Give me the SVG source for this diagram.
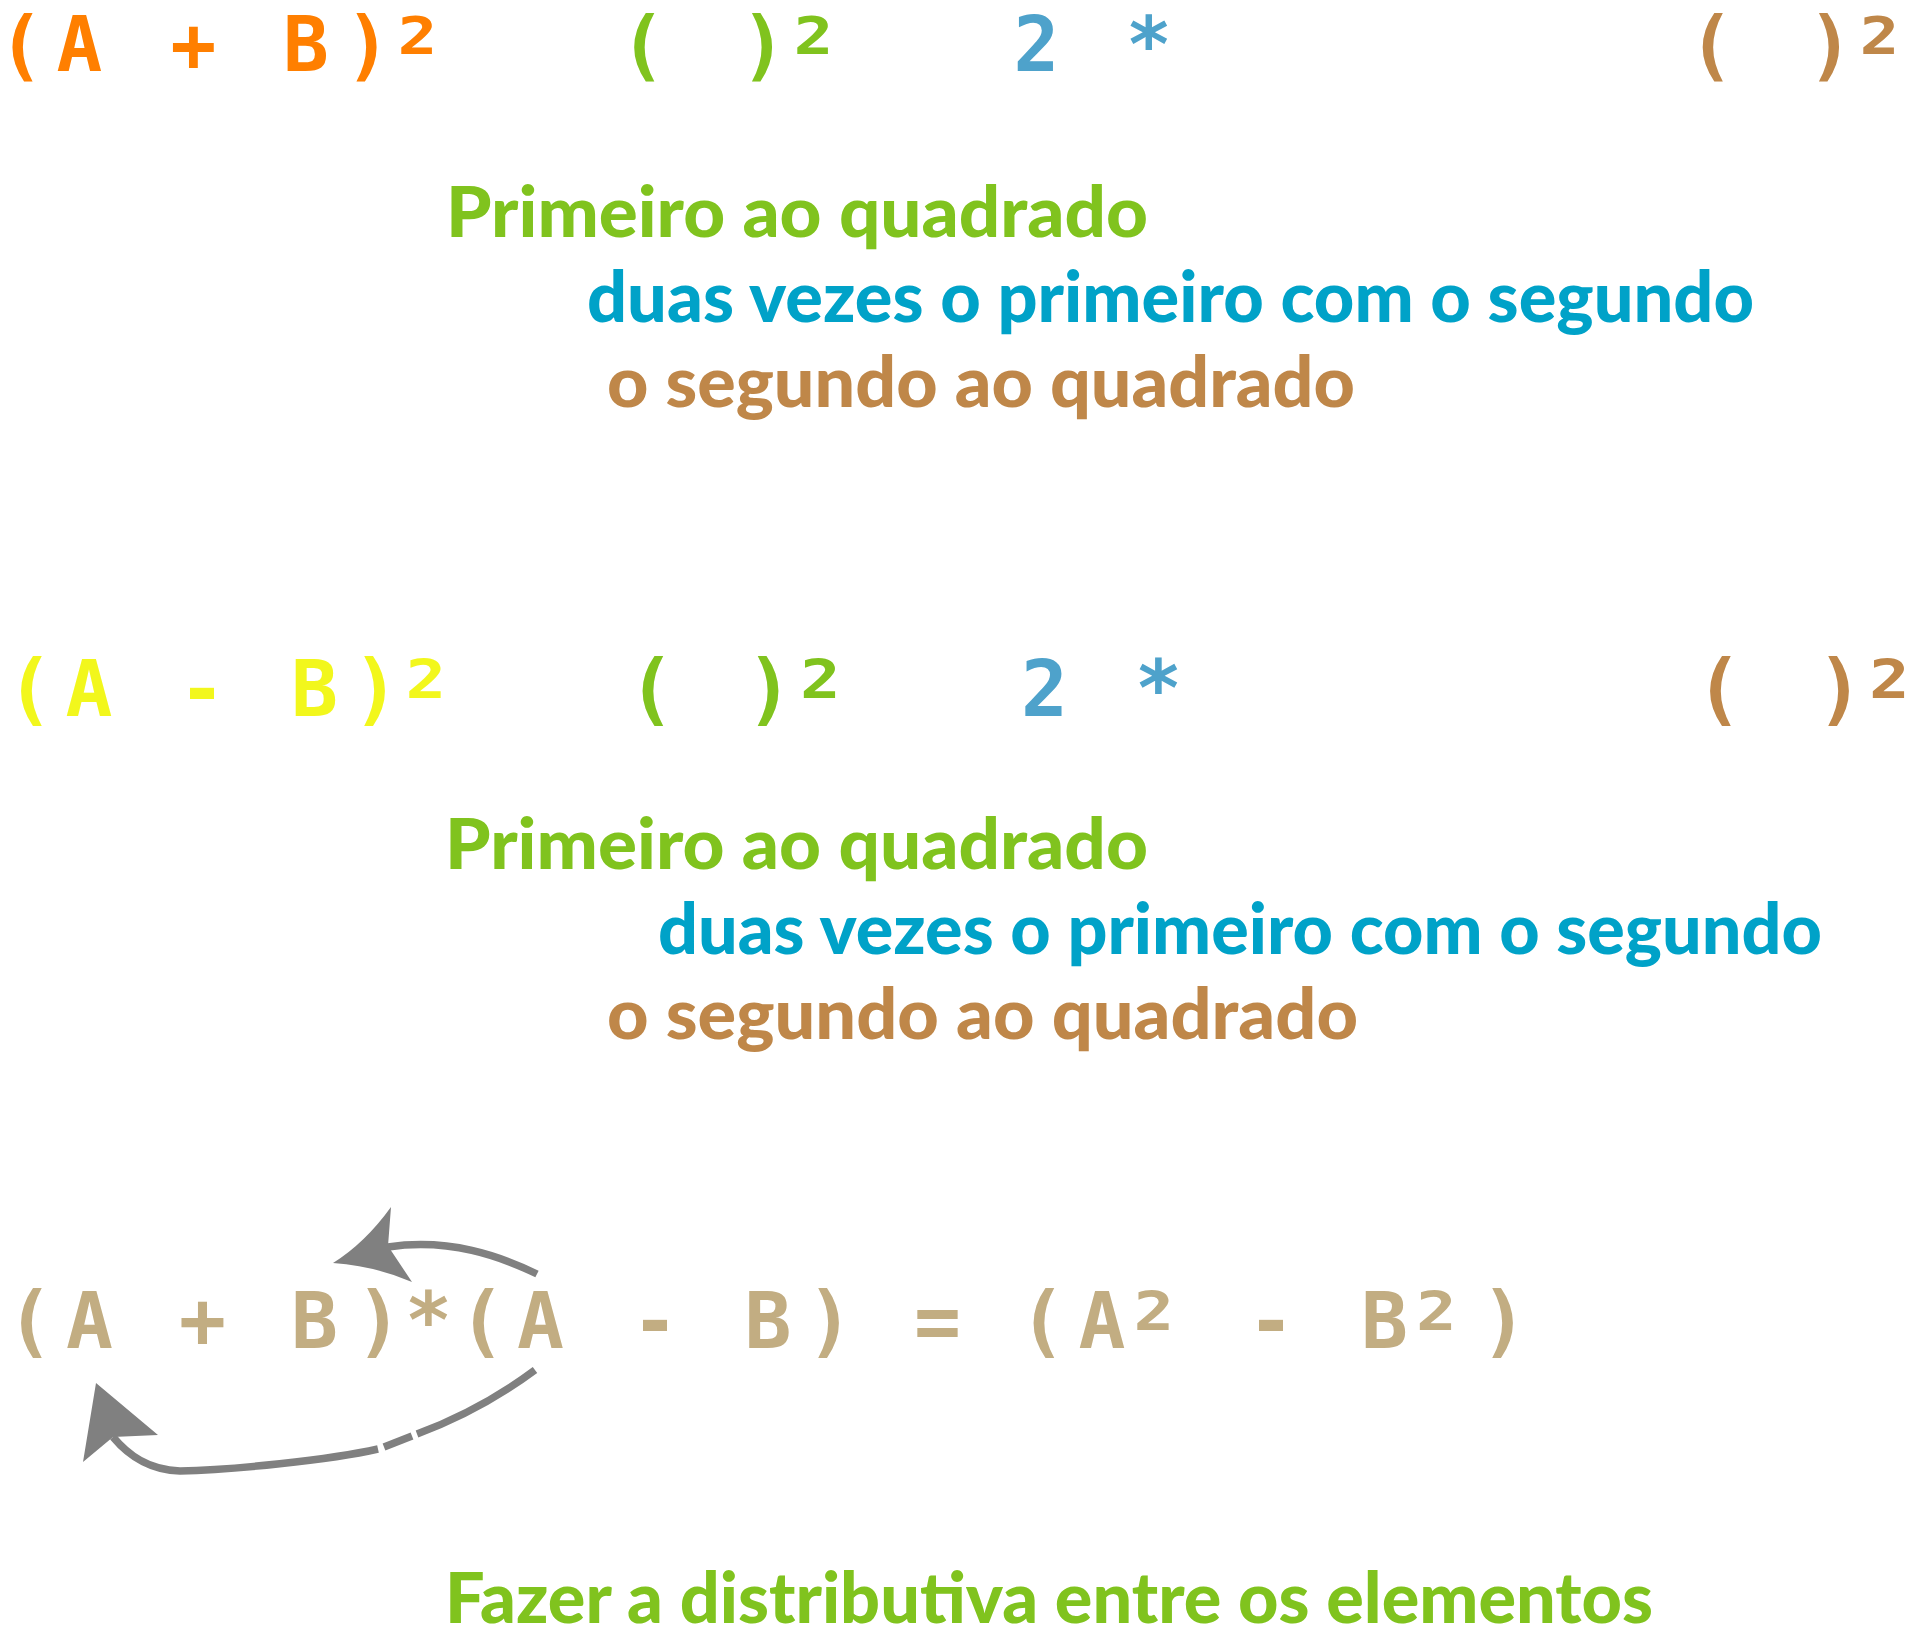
<svg xmlns="http://www.w3.org/2000/svg" width="1922" height="1638" viewBox="0 0 1922 1638">
<style>
.pix{font-family:"DejaVu Sans Mono","Liberation Mono",monospace;font-weight:bold;font-size:78px;text-anchor:middle}
.top{font-size:76px}
.sup{font-size:96px}
.top .sup{font-size:94px}
.lbl{font-family:Lato,"Open Sans","Noto Sans",sans-serif;font-weight:900;font-size:70px}
.orange{fill:#FF7F00}.yellow{fill:#F2F71C}.pg{fill:#80C31E}.pb{fill:#4EA2CB}.pbr{fill:#BF8749}.tan{fill:#C2AD82}
.tg{fill:#80C31E}.tb{fill:#00A2C8}.tbr{fill:#BF8749}
.shaft{fill:none;stroke:#808080;stroke-width:7.5;stroke-linecap:butt}
.head{fill:#808080}
</style>
<rect width="1922" height="1638" fill="#FFFFFF"/>

<g id="formula1-sum">
<text class="pix top orange"><tspan x="21 79.5 136.5 193.5 250 306 368" y="71">(A + B)</tspan><tspan class="sup" x="417" y="85">²</tspan></text>
</g>
<g id="formula1-first">
<text class="pix top pg"><tspan x="643 700 763.5" y="71">( )</tspan><tspan class="sup" x="813" y="85">²</tspan></text>
</g>
<g id="formula1-double">
<text class="pix top pb"><tspan x="1036.5 1093 1149" y="71">2 *</tspan></text>
</g>
<g id="formula1-second">
<text class="pix top pbr"><tspan x="1711.5 1770 1830.5" y="71">( )</tspan><tspan class="sup" x="1879" y="85">²</tspan></text>
</g>

<g id="rule1">
<text class="lbl tg" x="446" y="237" textLength="702" lengthAdjust="spacingAndGlyphs">Primeiro ao quadrado</text>
<text class="lbl tb" x="587" y="322" textLength="1167" lengthAdjust="spacingAndGlyphs">duas vezes o primeiro com o segundo</text>
<text class="lbl tbr" x="607" y="407" textLength="748" lengthAdjust="spacingAndGlyphs">o segundo ao quadrado</text>
</g>

<g id="formula2-diff">
<text class="pix yellow"><tspan x="30 89 146 202 258 314.5 376" y="716">(A - B)</tspan><tspan class="sup" x="425.5" y="730">²</tspan></text>
</g>
<g id="formula2-first">
<text class="pix pg"><tspan x="651.5 710 769.5" y="716">( )</tspan><tspan class="sup" x="820" y="730">²</tspan></text>
</g>
<g id="formula2-double">
<text class="pix pb"><tspan x="1044.5 1101 1158.5" y="716">2 *</tspan></text>
</g>
<g id="formula2-second">
<text class="pix pbr"><tspan x="1719 1780 1840" y="716">( )</tspan><tspan class="sup" x="1889" y="730">²</tspan></text>
</g>

<g id="rule2">
<text class="lbl tg" x="445" y="869" textLength="703" lengthAdjust="spacingAndGlyphs">Primeiro ao quadrado</text>
<text class="lbl tb" x="658" y="954" textLength="1164" lengthAdjust="spacingAndGlyphs">duas vezes o primeiro com o segundo</text>
<text class="lbl tbr" x="607" y="1039" textLength="751" lengthAdjust="spacingAndGlyphs">o segundo ao quadrado</text>
</g>

<g id="formula3-product">
<text class="pix tan"><tspan x="30 89.5 146 202.5 258 314.5 379 428.5 482 540.5 597 655 711 768 830 880 937.5 990 1042.5 1102" y="1348">(A + B)*(A - B) = (A</tspan><tspan class="sup" x="1153.5" y="1362">²</tspan><tspan x="1210 1271 1328 1384.5" y="1348"> - B</tspan><tspan class="sup" x="1436" y="1362">²</tspan><tspan x="1504" y="1348">)</tspan></text>
</g>

<g id="connectors">
<path class="shaft" d="M537,1274 C500,1256 450,1238 388,1247"/>
<path class="head" d="M333,1263 Q365,1243 391,1207 L388,1246 L412,1282 Q375,1266 333,1263 Z"/>
<path class="shaft" d="M535,1370 C500,1396 460,1418 417,1434"/>
<path class="shaft" d="M412,1436 L384,1447"/>
<path class="shaft" d="M378,1449 C330,1460 230,1470 180,1471 C148,1470 128,1455 113,1437"/>
<path class="head" d="M96,1383 L158,1435 L113,1437 L83,1462 Z"/>
</g>

<g id="note">
<text class="lbl tg" x="445" y="1623" textLength="1208" lengthAdjust="spacingAndGlyphs">Fazer a distributiva entre os elementos</text>
</g>
</svg>
